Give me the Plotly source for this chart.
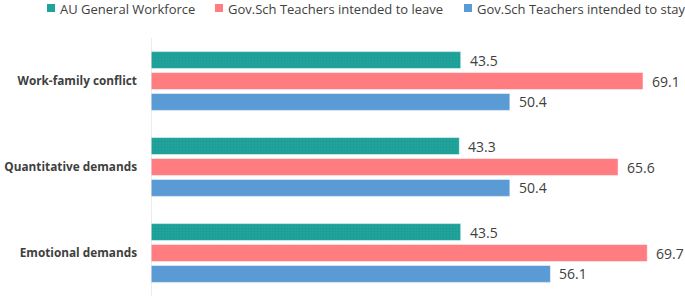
import plotly.graph_objects as go

categories = ["Work-family conflict", "Quantitative demands", "Emotional demands"]
au_general = [43.5, 43.3, 43.5]
gov_leave = [69.1, 65.6, 69.7]
gov_stay = [50.4, 50.4, 56.1]

series = [
    ("AU General Workforce", au_general, "#1FA39B"),
    ("Gov.Sch Teachers intended to leave", gov_leave, "#FF7C80"),
    ("Gov.Sch Teachers intended to stay", gov_stay, "#5B9BD5"),
]

W, H = 685, 296
ML, MR, MT, MB = 151, 0, 38, 0
BARGAP, GROUPGAP = 0.27, 0.19

fig = go.Figure()
for i, (name, vals, col) in enumerate(series):
    marker = dict(color=col, line=dict(color="rgba(255,255,255,0.5)", width=1))
    if i == 0:
        marker["pattern"] = dict(shape=".", fgcolor="#17938B", size=3, solidity=0.4)
    fig.add_trace(go.Bar(
        y=categories, x=vals, name=name, orientation="h",
        marker=marker, showlegend=False,
    ))

fig.update_layout(
    width=W, height=H,
    margin=dict(l=ML, r=MR, t=MT, b=MB, autoexpand=False),
    barmode="group", bargap=BARGAP, bargroupgap=GROUPGAP,
    plot_bgcolor="white", paper_bgcolor="white",
    font=dict(family="Open Sans", color="#404040", size=13),
    xaxis=dict(range=[0, 75], showgrid=False, showticklabels=False, zeroline=False,
               showline=False, ticks="", automargin=False),
    yaxis=dict(autorange="reversed", showgrid=False, ticks="", showline=False,
               automargin=False, ticklabelstandoff=13,
               tickfont=dict(size=11.8, color="#404040", family="Open Sans", weight="bold")),
)
fig.add_shape(type="line", xref="x", yref="paper", x0=0, x1=0, y0=0, y1=1,
              line=dict(color="#D9D9D9", width=1))

# value labels placed at each bar's data coordinates
slot = (1 - BARGAP) / 3
for i, (name, vals, col) in enumerate(series):
    for j, v in enumerate(vals):
        fig.add_annotation(
            x=v, y=j + (i - 1) * slot, xref="x", yref="y",
            text=f"{v:.1f}", showarrow=False, xanchor="left", xshift=7,
            font=dict(size=14, color="#404040", family="Open Sans"),
        )

# custom legend (row at top)
legend_x_px = [47, 215, 464]
pw = W - ML - MR
ph = H - MT - MB
for (name, vals, col), xp in zip(series, legend_x_px):
    x0 = (xp - ML) / pw
    x1 = (xp + 8 - ML) / pw
    fig.add_shape(type="rect", xref="paper", yref="paper",
                  x0=x0, x1=x1, y0=1 + (MT - 4) / ph, y1=1 + (MT - 12) / ph,
                  fillcolor=col, line=dict(width=0))
    fig.add_annotation(x=(xp + 11 - ML) / pw, y=1 + (MT - 9) / ph,
                       xref="paper", yref="paper", xanchor="left", yanchor="middle",
                       text=name, showarrow=False,
                       font=dict(size=13, color="#404040", family="Open Sans"))

fig.write_html("out.html", config={"displayModeBar": False},
               post_script="document.body.style.margin='0';")
